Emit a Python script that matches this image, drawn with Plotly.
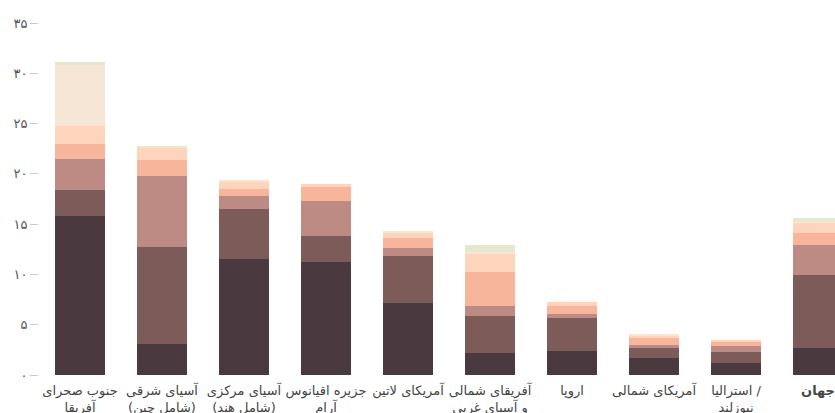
import plotly.graph_objects as go

categories = [
    "جنوب صحرای<br>آفریقا",
    "آسیای شرقی<br>(شامل چین)",
    "آسیای مرکزی<br>(شامل هند)",
    "جزیره اقیانوس<br>آرام",
    "آمریکای لاتین",
    "آفریقای شمالی<br>و آسیای غربی",
    "اروپا",
    "آمریکای شمالی",
    "استرالیا /<br>نیوزلند",
    "<b>جهان</b>",
]

dark = [15.8, 3.1, 11.55, 11.25, 7.15, 2.2, 2.4, 1.7, 1.2, 2.7]
brown = [2.6, 9.6, 4.95, 2.6, 4.65, 3.65, 3.3, 1.0, 1.1, 7.25]
rose = [3.1, 7.05, 1.3, 3.45, 0.8, 1.0, 0.4, 0.3, 0.6, 3.0]
salmon = [1.5, 1.6, 0.7, 1.4, 1.0, 3.35, 0.8, 0.7, 0.4, 1.2]
peach = [1.8, 1.2, 0.7, 0.3, 0.5, 1.8, 0.4, 0.2, 0.2, 1.0]
cream = [6.0, 0.0, 0.15, 0.0, 0.2, 0.2, 0.0, 0.2, 0.0, 0.1]
green = [0.35, 0.2, 0.0, 0.0, 0.0, 0.7, 0.0, 0.0, 0.0, 0.35]

series = [
    ("لایه ۱", dark, "#4a3a40"),
    ("لایه ۲", brown, "#7c5b59"),
    ("لایه ۳", rose, "#bd8b83"),
    ("لایه ۴", salmon, "#f7b59b"),
    ("لایه ۵", peach, "#fdd5bc"),
    ("لایه ۶", cream, "#f6e6d6"),
    ("لایه ۷", green, "#e5e7d0"),
]

y_tick_vals = [0, 5, 10, 15, 20, 25, 30, 35]
y_tick_text = ["۰", "۵", "۱۰", "۱۵", "۲۰", "۲۵", "۳۰", "۳۵"]

fig = go.Figure()
for name, vals, color in series:
    fig.add_trace(go.Bar(
        x=list(range(len(categories))), y=vals, name=name,
        marker=dict(color=color, line=dict(width=0)),
    ))

fig.update_layout(
    barmode="stack",
    bargap=0.39,
    width=835, height=413,
    margin=dict(l=39, r=0, t=23, b=38),
    plot_bgcolor="white", paper_bgcolor="white",
    showlegend=False,
    font=dict(family="DejaVu Sans", size=13, color="#444"),
    xaxis=dict(
        range=[-0.5, 9.207],
        tickmode="array",
        tickvals=list(range(len(categories))),
        ticktext=categories,
        showgrid=False, zeroline=False, showline=False,
        ticks="", tickfont=dict(size=13, color="#444"),
        tickangle=0,
        ticklabelstandoff=6,
        automargin=False,
    ),
    yaxis=dict(
        range=[0, 35],
        tickmode="array",
        tickvals=y_tick_vals,
        ticktext=y_tick_text,
        showgrid=False, zeroline=False, showline=False,
        ticks="outside", ticklen=8, tickcolor="#cccccc", tickwidth=1,
        tickfont=dict(size=13, color="#555"),
        automargin=False,
    ),
)

fig.write_html(
    "out.html",
    config={"displayModeBar": False},
    post_script="document.body.style.margin='0';document.body.style.overflow='hidden';document.documentElement.style.overflow='hidden';",
)
